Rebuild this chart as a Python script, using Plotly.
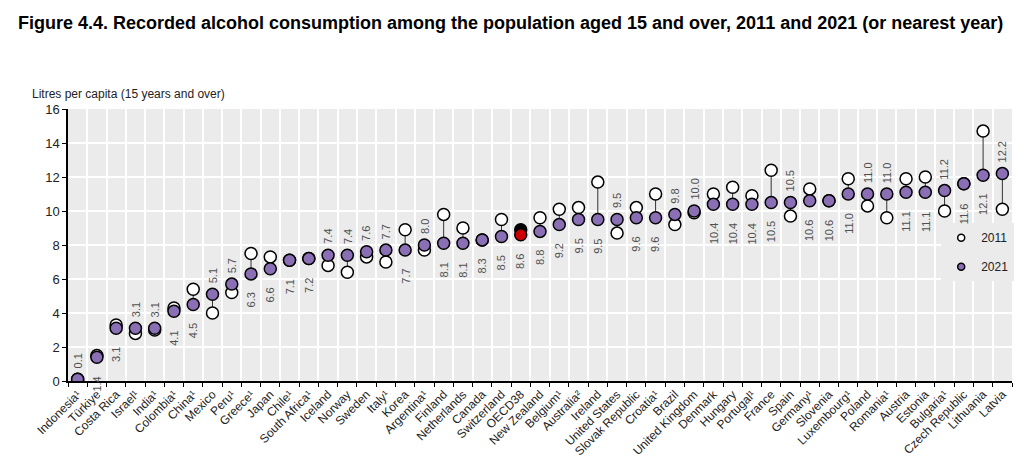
import plotly.graph_objects as go

countries = [
    "Indonesia¹", "Türkiye", "Costa Rica", "Israel¹", "India¹", "Colombia¹", "China¹",
    "Mexico", "Peru¹", "Greece¹", "Japan", "Chile¹", "South Africa¹", "Iceland", "Norway",
    "Sweden", "Italy¹", "Korea", "Argentina¹", "Finland", "Netherlands", "Canada",
    "Switzerland", "OECD38", "New Zealand", "Belgium¹", "Australia²", "Ireland",
    "United States", "Slovak Republic", "Croatia¹", "Brazil", "United Kingdom", "Denmark",
    "Hungary", "Portugal¹", "France", "Spain", "Germany¹", "Slovenia", "Luxembourg¹",
    "Poland", "Romania¹", "Austria", "Estonia", "Bulgaria¹", "Czech Republic",
    "Lithuania", "Latvia",
]

values_2021 = [
    0.1, 1.4, 3.1, 3.1, 3.1, 4.1, 4.5,
    5.1, 5.7, 6.3, 6.6, 7.1, 7.2, 7.4, 7.4,
    7.6, 7.7, 7.7, 8.0, 8.1, 8.1, 8.3,
    8.5, 8.6, 8.8, 9.2, 9.5, 9.5,
    9.5, 9.6, 9.6, 9.8, 10.0, 10.4,
    10.4, 10.4, 10.5, 10.5, 10.6, 10.6, 11.0,
    11.0, 11.0, 11.1, 11.1, 11.2, 11.6,
    12.1, 12.2,
]

values_2011 = [
    0.1, 1.5, 3.3, 2.8, 3.0, 4.3, 5.4,
    4.0, 5.2, 7.5, 7.3, 7.1, 7.2, 6.8, 6.4,
    7.3, 7.0, 8.9, 7.7, 9.8, 9.0, 8.3,
    9.5, 8.9, 9.6, 10.1, 10.2, 11.7,
    8.7, 10.2, 11.0, 9.2, 9.9, 11.0,
    11.4, 10.9, 12.4, 9.7, 11.3, 10.6, 11.9,
    10.3, 9.6, 11.9, 12.0, 10.0, 11.6,
    14.7, 10.1,
]

y_ticks = [0, 2, 4, 6, 8, 10, 12, 14, 16]

title_text = ("Figure 4.4. Recorded alcohol consumption among the population aged 15 "
              "and over, 2011 and 2021 (or nearest year)")
y_title = "Litres per capita (15 years and over)"

PURPLE = "#8B6FB5"
OECD = "OECD38"
FONT = "Liberation Sans, Arial, sans-serif"

W, H = 1016, 460

fig = go.Figure()

# connectors
cx, cy = [], []
for c, a, b in zip(countries, values_2011, values_2021):
    cx += [c, c, None]
    cy += [a, b, None]
fig.add_trace(go.Scatter(x=cx, y=cy, mode="lines", line=dict(color="#333333", width=1),
                         hoverinfo="skip", showlegend=False))

fill_2011 = ["#000000" if c == OECD else "#FFFFFF" for c in countries]
fill_2021 = ["#CC0000" if c == OECD else PURPLE for c in countries]

fig.add_trace(go.Scatter(x=countries, y=values_2011, mode="markers", name="2011",
                         marker=dict(size=12, color=fill_2011, line=dict(color="#000000", width=1.5)),
                         showlegend=False))
fig.add_trace(go.Scatter(x=countries, y=values_2021, mode="markers", name="2021",
                         marker=dict(size=12, color=fill_2021, line=dict(color="#000000", width=1.5)),
                         showlegend=False))

# legend-only entries with small markers
fig.add_trace(go.Scatter(x=[None], y=[None], mode="markers", name="2011", legendgroup="a",
                         marker=dict(size=7, color="#FFFFFF", line=dict(color="#000000", width=1.5))))
fig.add_trace(go.Scatter(x=[None], y=[None], mode="markers", name="2021", legendgroup="b",
                         marker=dict(size=7, color=PURPLE, line=dict(color="#000000", width=1.5))))

# data labels
annotations = []
for c, a, b in zip(countries, values_2011, values_2021):
    above = (a < b) or (b <= 1.0)
    annotations.append(dict(
        x=c, y=b, xref="x", yref="y", text=f"{b:.1f}", showarrow=False, textangle=-90,
        font=dict(family=FONT, size=11, color="#505050"),
        yanchor="bottom" if above else "top",
        yshift=9 if above else -17,
    ))

annotations.append(dict(
    x=0, y=1, xref="paper", yref="paper", text=y_title, showarrow=False,
    xanchor="left", yanchor="bottom", xshift=-38, yshift=6,
    font=dict(family=FONT, size=12, color="#222222"),
))

fig.update_layout(
    width=W, height=H,
    margin=dict(l=60, r=10, t=101, b=87),
    paper_bgcolor="#FFFFFF",
    plot_bgcolor="#EBEBEB",
    font=dict(family=FONT, size=12, color="#222222"),
    title=dict(text=f"<b>{title_text}</b>", x=10 / W, xanchor="left", xref="container",
               y=1 - 15 / H, yanchor="middle", yref="container",
               font=dict(family=FONT, size=18, color="#000000")),
    xaxis=dict(
        type="category", categoryorder="array", categoryarray=countries,
        range=[-0.5, len(countries) - 0.5],
        tickson="boundaries", ticks="outside", ticklen=4, tickcolor="#000000",
        showgrid=True, gridcolor="#FFFFFF", gridwidth=1.5,
        showline=True, linecolor="#000000", linewidth=1.5,
        tickangle=-45, tickfont=dict(family=FONT, size=12, color="#222222"),
        fixedrange=True,
    ),
    yaxis=dict(
        range=[0, 16], tickvals=y_ticks, ticktext=[str(t) for t in y_ticks],
        showgrid=True, gridcolor="#FFFFFF", gridwidth=2,
        zeroline=False, showline=True, linecolor="#000000", linewidth=1.5,
        ticks="outside", ticklen=4, tickcolor="#000000",
        tickfont=dict(family=FONT, size=13, color="#222222"),
        fixedrange=True,
    ),
    legend=dict(
        x=0.925, y=0.58, xanchor="left", yanchor="top",
        bgcolor="#EBEBEB", borderwidth=0, tracegroupgap=10,
        font=dict(family=FONT, size=12, color="#222222"),
        itemwidth=30,
    ),
    annotations=annotations,
    showlegend=True,
)

fig.write_html("out.html")
